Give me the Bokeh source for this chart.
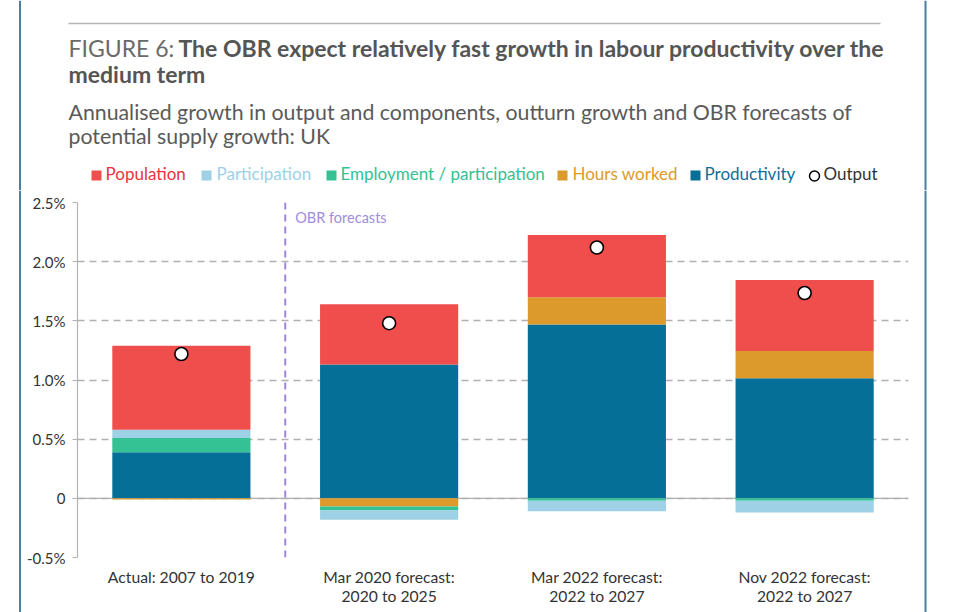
import numpy as np
from bokeh.plotting import figure
from bokeh.layouts import column, row
from bokeh.models import (ColumnDataSource, FactorRange, Range1d, FixedTicker,
                          Span, Label)
from bokeh.core.properties import value
from bokeh.embed import file_html
from bokeh.resources import INLINE

# ---------------- data ----------------
categories = ["Actual: 2007 to 2019",
              "Mar 2020 forecast:\n2020 to 2025",
              "Mar 2022 forecast:\n2022 to 2027",
              "Nov 2022 forecast:\n2022 to 2027"]
population = [0.71, 0.51, 0.525, 0.60]
participation = [0.07, -0.08, -0.09, -0.10]
employment_participation = [0.12, -0.03, -0.02, -0.02]
hours_worked = [-0.01, -0.07, 0.23, 0.23]
productivity = [0.39, 1.13, 1.47, 1.015]
output = [1.22, 1.48, 2.12, 1.735]

y_ticks = [-0.5, 0, 0.5, 1.0, 1.5, 2.0, 2.5]
y_tick_labels = ["-0.5%", "0", "0.5%", "1.0%", "1.5%", "2.0%", "2.5%"]

series_names = ["Population", "Participation", "Employment / participation",
                "Hours worked", "Productivity"]
series_values = [population, participation, employment_participation,
                 hours_worked, productivity]
series_colors = ["#f04d4d", "#9ed0e6", "#34c193", "#dc9a2c", "#056f98"]
legend_text_colors = ["#e8343a", "#9ed0e6", "#34c193", "#dc9a2c", "#0f6e9a"]
stack_order = [4, 3, 2, 1, 0]  # productivity first, population last

title_prefix = "FIGURE 6:"
title_line1 = "The OBR expect relatively fast growth in labour productivity over the"
title_line2 = "medium term"
subtitle_line1 = "Annualised growth in output and components, outturn growth and OBR forecasts of"
subtitle_line2 = "potential supply growth: UK"

FONT = "Lato"
FRAME_COLOR = "#4d7f9c"
W, H = 959, 612
HEADER_H = 190
MAIN_H = H - HEADER_H


def blank(width, height, xr, yr):
    f = figure(width=width, height=height, output_backend="svg",
               toolbar_location=None, x_range=xr, y_range=yr,
               x_axis_location=None, y_axis_location=None,
               min_border=0, min_border_left=0, min_border_right=0,
               min_border_top=0, min_border_bottom=0, frame_align=False,
               background_fill_color="white", border_fill_color="white")
    f.grid.visible = False
    f.outline_line_color = None
    return f


# ---------------- header ----------------
hd = blank(W, HEADER_H, Range1d(0, W), Range1d(HEADER_H, 0))
hd.quad(left=[18.5, 924], right=[20.5, 926], top=[0, 0], bottom=[HEADER_H, HEADER_H],
        fill_color=FRAME_COLOR, line_color=None)
hd.quad(left=[68], right=[880], top=[22.3], bottom=[23.7],
        fill_color="#b5b5b5", line_color=None)


def htext(x, y, text, size, color, style="normal"):
    fix = 0.4 * size  # svg alphabetic-baseline correction
    hd.text(x=[x], y=[y - fix], text=[text], text_font=value(FONT),
            text_font_size=value(f"{size}px"), text_color=color,
            text_font_style=style, text_baseline="alphabetic", text_align="left")


htext(68, 57, title_prefix, 23, "#6a6a6a")
htext(178, 57, title_line1, 23, "#555555", "bold")
htext(68, 83, title_line2, 23, "#555555", "bold")
htext(68, 120, subtitle_line1, 21.3, "#5a5a5a")
htext(68, 144, subtitle_line2, 21.3, "#5a5a5a")

legend_sq_x = [91, 201, 326, 557, 690]
legend_tx_x = [105, 216, 340, 572, 704]
hd.quad(left=legend_sq_x, right=[x + 10 for x in legend_sq_x],
        top=[170] * 5, bottom=[180] * 5, fill_color=series_colors, line_color=None)
for name, tc, tx in zip(series_names, legend_text_colors, legend_tx_x):
    htext(tx, 180, name, 17, tc)
hd.scatter(x=[814], y=[175.5], size=10, marker="circle", fill_color="white",
           line_color="black", line_width=1.5)
htext(823, 180, "Output", 17, "#333333")

# ---------------- side strips ----------------
left_strip = blank(21, MAIN_H, Range1d(0, 21), Range1d(0, 1))
left_strip.quad(left=[18.5], right=[20.5], bottom=[0], top=[1],
                fill_color=FRAME_COLOR, line_color=None)
right_strip = blank(43, MAIN_H, Range1d(0, 43), Range1d(0, 1))
right_strip.quad(left=[8], right=[10], bottom=[0], top=[1],
                 fill_color=FRAME_COLOR, line_color=None)

# ---------------- main chart ----------------
MW = W - 21 - 43  # 895
p = figure(width=MW, height=MAIN_H, output_backend="svg", toolbar_location=None,
           x_range=FactorRange(*categories), y_range=Range1d(-0.5, 2.5),
           min_border_left=56, min_border_right=8,
           min_border_top=12, min_border_bottom=55, frame_align=False,
           background_fill_color="white", border_fill_color="white")
p.outline_line_color = None
p.x_range.range_padding = 0

p.yaxis.ticker = FixedTicker(ticks=y_ticks)
p.yaxis.major_label_overrides = {t: l for t, l in zip(y_ticks, y_tick_labels)}
p.yaxis.axis_line_color = "#b3b3b3"
p.yaxis.axis_line_width = 1.2
p.yaxis.major_tick_line_color = "#b3b3b3"
p.yaxis.major_tick_line_width = 1.2
p.yaxis.major_tick_out = 5
p.yaxis.major_tick_in = 0
p.yaxis.minor_tick_line_color = None
p.yaxis.major_label_standoff = 7
p.yaxis.major_label_text_font = FONT
p.yaxis.major_label_text_font_size = "15px"
p.yaxis.major_label_text_color = "#333333"

p.xaxis.axis_line_color = None
p.xaxis.major_tick_line_color = None
p.xaxis.major_tick_out = 0
p.xaxis.major_tick_in = 0
p.xaxis.minor_tick_line_color = None
p.xaxis.major_label_standoff = 10
p.xaxis.major_label_text_font = FONT
p.xaxis.major_label_text_font_size = "15.7px"
p.xaxis.major_label_text_color = "#333333"
p.xaxis.major_label_text_line_height = 1.1

p.xgrid.grid_line_color = None
p.ygrid.ticker = FixedTicker(ticks=y_ticks)
p.ygrid.grid_line_color = "#b0b0b0"
p.ygrid.grid_line_width = 1.4
p.ygrid.grid_line_dash = "7 5"

p.add_layout(Span(location=0, dimension="width", line_color="#b0b0b0",
                  line_width=1.4, level="underlay"))

pos_base = np.zeros(len(categories))
neg_base = np.zeros(len(categories))
for i in stack_order:
    vals = np.array(series_values[i], dtype=float)
    bottom = np.where(vals >= 0, pos_base, neg_base)
    top = bottom + vals
    pos_base = np.where(vals >= 0, top, pos_base)
    neg_base = np.where(vals < 0, top, neg_base)
    src = ColumnDataSource(dict(x=categories, bottom=bottom, top=top))
    p.vbar(x="x", bottom="bottom", top="top", width=0.665, source=src,
           fill_color=series_colors[i], line_color=None)

out_src = ColumnDataSource(dict(x=categories, y=output))
p.scatter(x="x", y="y", source=out_src, size=13, marker="circle",
          fill_color="white", line_color="black", line_width=1.6)

p.add_layout(Span(location=1, dimension="height", line_color="#9f87e0",
                  line_width=2, line_dash="7 5"))
p.add_layout(Label(x=1, y=2.5, x_offset=10, y_offset=-15,
                   text="OBR forecasts", text_font=FONT, text_font_size="14.5px",
                   text_color="#a08ce0", text_baseline="alphabetic"))

layout = column(hd, row(left_strip, p, right_strip, spacing=0), spacing=0)

open("out.html", "w").write(file_html(layout, INLINE))
